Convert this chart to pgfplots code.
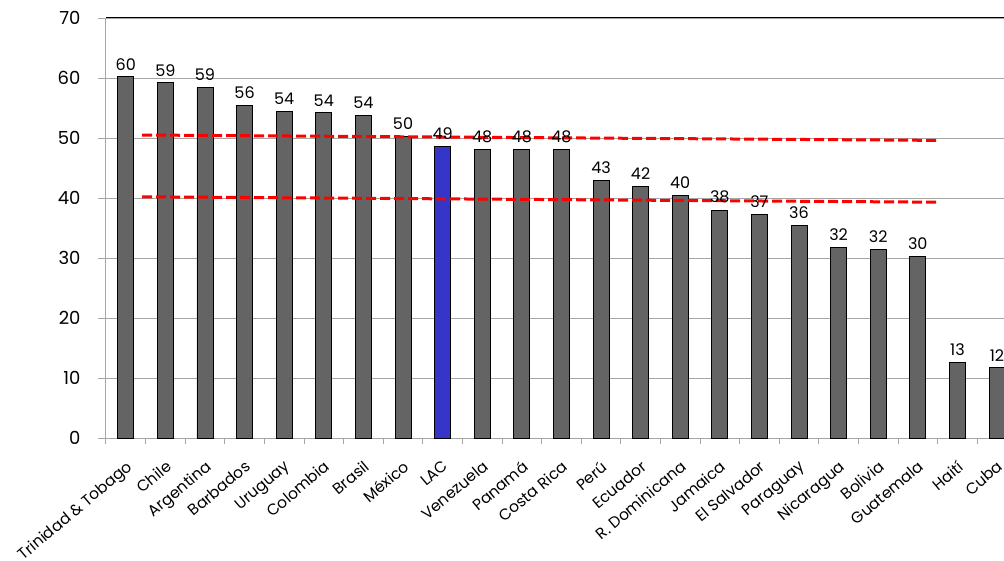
\documentclass[border=0pt]{standalone}
\usepackage{pgfplots}
\pgfplotsset{compat=1.18}
\usepackage{fontspec}
\setmainfont{Poppins}
\definecolor{bargray}{HTML}{646464}
\definecolor{lacblue}{HTML}{3535C8}
\definecolor{gridgray}{HTML}{A6A6A6}
\begin{document}
\begin{tikzpicture}
\useasboundingbox (-106pt,-122pt) rectangle (898pt,438pt);
\begin{axis}[
  at={(0,0)}, anchor=south west,
  scale only axis,
  width=910.8pt, height=420pt,
  xmin=-0.5, xmax=22.5,
  ymin=0, ymax=70,
  ytick={0,10,...,70},
  /pgf/number format/assume math mode=true,
  axis x line*=bottom, axis y line*=left,
  axis line style={gridgray, line width=1pt},
  ymajorgrids, grid style={gridgray, line width=1pt},
  xtick={0,...,22},
  major x tick style={draw=none},
  minor xtick={-0.5,0.5,...,22.5},
  minor x tick style={gridgray, line width=1pt},
  minor tick length=6pt,
  major tick length=8pt,
  y tick style={gridgray, line width=1pt},
  tick align=outside,
  xticklabels={Trinidad \& Tobago, Chile, Argentina, Barbados, Uruguay, Colombia, Brasil, México, LAC, Venezuela, Panamá, Costa Rica, Perú, Ecuador, R. Dominicana, Jamaica, El Salvador, Paraguay, Nicaragua, Bolivia, Guatemala, Haití, Cuba},
  xticklabel style={font=\fontsize{15.5}{16}\selectfont, rotate=40, anchor=north east, inner sep=0pt, xshift=-9pt, yshift=-10pt},
  yticklabel style={font=\fontsize{18}{18}\selectfont, xshift=-14pt},
  clip=false,
  ybar, bar width=16pt, bar shift=0pt,
  point meta=explicit symbolic,
  nodes near coords,
  nodes near coords style={font=\fontsize{16}{16}\selectfont, black, yshift=3pt},
]
\addplot[fill=bargray, draw=black, line width=0.8pt] coordinates {
(0,60.2) [60] (1,59.2) [59] (2,58.4) [59] (3,55.5) [56] (4,54.5) [54]
(5,54.2) [54] (6,53.8) [54] (7,50.3) [50]
(9,48.1) [48] (10,48.1) [48] (11,48.1) [48] (12,42.9) [43] (13,41.9) [42]
(14,40.4) [40] (15,38.0) [38] (16,37.2) [37] (17,35.5) [36] (18,31.8) [32]
(19,31.5) [32] (20,30.3) [30] (21,12.6) [13] (22,11.7) [12]
};
\addplot[fill=lacblue, draw=black, line width=0.8pt] coordinates {(8,48.6) [49]};
\addplot[sharp plot, red, line width=3pt, dash pattern=on 10pt off 4pt, nodes near coords=] coordinates {(0.41,50.5) (20.56,49.6)};
\addplot[sharp plot, red, line width=3pt, dash pattern=on 10pt off 4pt, nodes near coords=] coordinates {(0.41,40.2) (20.56,39.3)};
\end{axis}
\draw[black, line width=1pt] (0,420pt) -- (898pt,420pt);
\end{tikzpicture}
\end{document}
